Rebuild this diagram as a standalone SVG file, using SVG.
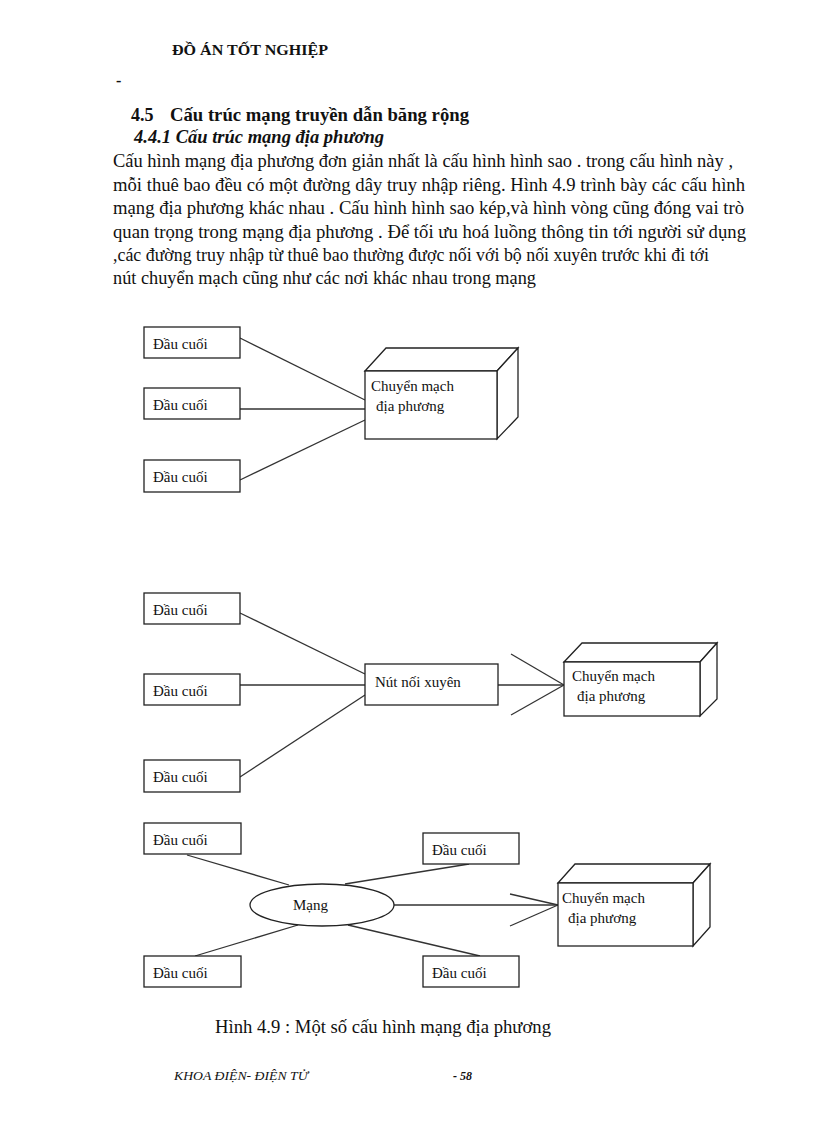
<svg xmlns="http://www.w3.org/2000/svg" width="816" height="1123" viewBox="0 0 816 1123">
<style>
.t{font-family:"Liberation Serif","Times New Roman",serif;fill:#111}
.body{font-size:19px}
.lbl{font-size:15px}
.box{fill:#fff;stroke:#222;stroke-width:1.3}
.ln{stroke:#333;stroke-width:1.3;fill:none}
</style>
<rect x="0" y="0" width="816" height="1123" fill="#fff"/>
<g id="text">
<text class="t" x="172" y="55" font-size="14" font-weight="bold" textLength="156" lengthAdjust="spacingAndGlyphs">ĐỒ ÁN TỐT NGHIỆP</text>
<text class="t" x="116" y="86" font-size="16" font-weight="bold">-</text>
<text class="t" x="131" y="121" font-size="18" font-weight="bold">4.5</text>
<text class="t" x="170" y="121" font-size="18" font-weight="bold" textLength="299" lengthAdjust="spacingAndGlyphs">Cấu trúc mạng truyền dẫn băng rộng</text>
<text class="t" x="134" y="143" font-size="18" font-weight="bold" font-style="italic" textLength="250" lengthAdjust="spacingAndGlyphs">4.4.1 Cấu trúc mạng địa phương</text>
<text class="t body" x="113" y="167" textLength="620" lengthAdjust="spacingAndGlyphs">Cấu hình mạng địa phương đơn giản nhất là  cấu hình hình sao . trong cấu hình này ,</text>
<text class="t body" x="113" y="191" textLength="632" lengthAdjust="spacingAndGlyphs">mỗi thuê bao đều có một đường dây truy nhập riêng.  Hình 4.9 trình bày các cấu hình</text>
<text class="t body" x="113" y="214" textLength="631" lengthAdjust="spacingAndGlyphs">mạng  địa phương khác nhau . Cấu hình hình sao kép,và hình vòng cũng đóng vai trò</text>
<text class="t body" x="113" y="238" textLength="633" lengthAdjust="spacingAndGlyphs">quan trọng trong mạng  địa phương . Để tối ưu hoá luồng thông tin  tới người sử dụng</text>
<text class="t body" x="113" y="261" textLength="596" lengthAdjust="spacingAndGlyphs">,các đường truy nhập từ thuê bao thường được nối với bộ nối xuyên trước khi  đi tới</text>
<text class="t body" x="113" y="284" textLength="423" lengthAdjust="spacingAndGlyphs">nút  chuyển mạch cũng như các nơi khác nhau trong mạng</text>
<text class="t body" x="215" y="1033" textLength="336" lengthAdjust="spacingAndGlyphs">Hình 4.9 : Một số cấu hình mạng  địa phương</text>
<text class="t" x="174" y="1080" font-size="12" font-style="italic" textLength="134" lengthAdjust="spacingAndGlyphs">KHOA ĐIỆN- ĐIỆN TỬ</text>
<text class="t" x="453" y="1080" font-size="12" font-style="italic" font-weight="bold">- 58</text>
</g>
<g id="connectors">
<line class="ln" x1="240" y1="338" x2="365" y2="400"/>
<line class="ln" x1="240" y1="409" x2="365" y2="409"/>
<line class="ln" x1="240" y1="480" x2="365" y2="420"/>
<line class="ln" x1="240" y1="613" x2="365" y2="674"/>
<line class="ln" x1="240" y1="685" x2="365" y2="685"/>
<line class="ln" x1="240" y1="777" x2="365" y2="695"/>
<line class="ln" x1="498" y1="685" x2="564" y2="685"/>
<line class="ln" x1="511" y1="654" x2="564" y2="685"/>
<line class="ln" x1="511" y1="715" x2="564" y2="685"/>
<line class="ln" x1="187" y1="855" x2="289" y2="885"/>
<line class="ln" x1="469" y1="864" x2="345" y2="884"/>
<line class="ln" x1="195" y1="956" x2="298" y2="925"/>
<line class="ln" x1="480" y1="956" x2="348" y2="925"/>
<line class="ln" x1="394" y1="905" x2="558" y2="905"/>
<line class="ln" x1="510" y1="894" x2="558" y2="905"/>
<line class="ln" x1="510" y1="926" x2="558" y2="905"/>
</g>
<g id="d1-t1"><rect class="box" x="144" y="327" width="96" height="31"/><text class="t lbl" x="153" y="349">Đầu cuối</text></g>
<g id="d1-t2"><rect class="box" x="144" y="388" width="96" height="31"/><text class="t lbl" x="153" y="410">Đầu cuối</text></g>
<g id="d1-t3"><rect class="box" x="144" y="460" width="96" height="32"/><text class="t lbl" x="153" y="482">Đầu cuối</text></g>
<g id="d1-switch">
<polygon class="box" points="365,371 386,348 518,348 497,371"/>
<polygon class="box" points="497,371 518,348 518,417 497,439"/>
<rect class="box" x="365" y="371" width="132" height="68"/>
<text class="t lbl" x="371" y="391">Chuyển  mạch</text>
<text class="t lbl" x="376" y="411">địa phương</text>
</g>
<g id="d2-t1"><rect class="box" x="144" y="593" width="96" height="31"/><text class="t lbl" x="153" y="615">Đầu cuối</text></g>
<g id="d2-t2"><rect class="box" x="144" y="674" width="96" height="31"/><text class="t lbl" x="153" y="696">Đầu cuối</text></g>
<g id="d2-t3"><rect class="box" x="144" y="760" width="96" height="32"/><text class="t lbl" x="153" y="782">Đầu cuối</text></g>
<g id="d2-xc"><rect class="box" x="365" y="664" width="133" height="41"/><text class="t lbl" x="375" y="687">Nút nối  xuyên</text></g>
<g id="d2-switch">
<polygon class="box" points="564,662 582,643 717,643 700,662"/>
<polygon class="box" points="700,662 717,643 717,699 700,716"/>
<rect class="box" x="564" y="662" width="136" height="54"/>
<text class="t lbl" x="572" y="681">Chuyển  mạch</text>
<text class="t lbl" x="577" y="701">địa phương</text>
</g>
<g id="d3-tl"><rect class="box" x="144" y="823" width="97" height="31"/><text class="t lbl" x="153" y="845">Đầu cuối</text></g>
<g id="d3-tr"><rect class="box" x="423" y="833" width="96" height="31"/><text class="t lbl" x="432" y="855">Đầu cuối</text></g>
<g id="d3-bl"><rect class="box" x="144" y="956" width="97" height="31"/><text class="t lbl" x="153" y="978">Đầu cuối</text></g>
<g id="d3-br"><rect class="box" x="423" y="956" width="96" height="31"/><text class="t lbl" x="432" y="978">Đầu cuối</text></g>
<g id="d3-net"><ellipse class="box" cx="322" cy="905" rx="72" ry="21"/><text class="t lbl" x="293" y="910">Mạng</text></g>
<g id="d3-switch">
<polygon class="box" points="558,883 575,864 710,864 693,883"/>
<polygon class="box" points="693,883 710,864 710,927 693,946"/>
<rect class="box" x="558" y="883" width="135" height="63"/>
<text class="t lbl" x="562" y="903">Chuyển  mạch</text>
<text class="t lbl" x="568" y="923">địa phương</text>
</g>
</svg>
